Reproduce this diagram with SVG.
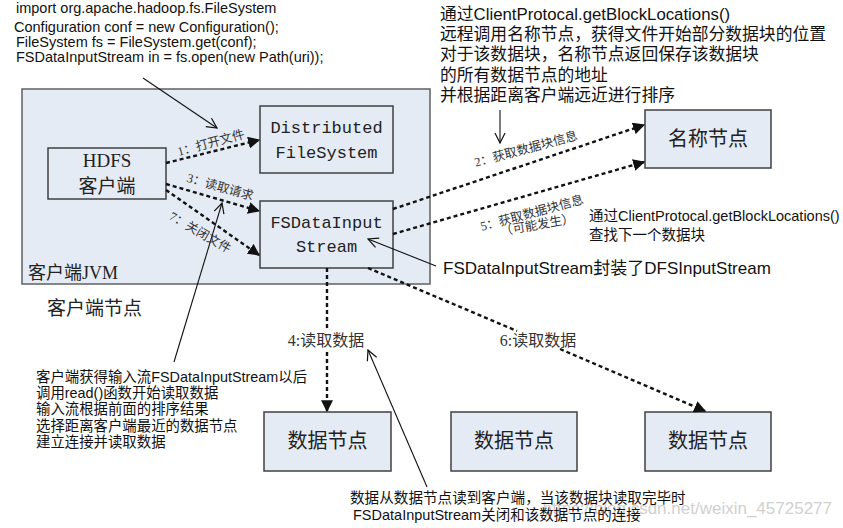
<svg xmlns="http://www.w3.org/2000/svg" width="843" height="528" viewBox="0 0 843 528">
<style>
.box{fill:#e5ebf5;stroke:#404040;stroke-width:1.5}
.outer{fill:#e5ebf5;stroke:#606060;stroke-width:1.5}
.nd{font-family:"Liberation Serif","Noto Sans CJK SC",serif;font-size:19px;fill:#222;text-anchor:middle}
.mono{font-family:"Liberation Mono","Noto Sans CJK SC",monospace;font-size:17px;fill:#222;text-anchor:middle}
.lbl{font-family:"Liberation Serif","Noto Sans CJK SC",serif;font-size:12.5px;fill:#333;text-anchor:middle}
.lbl2{font-family:"Liberation Serif","Noto Sans CJK SC",serif;font-size:16px;fill:#333;text-anchor:middle}
.ann{font-family:"Liberation Sans","Noto Sans CJK SC",sans-serif;fill:#111}
.dash{fill:none;stroke:#111;stroke-width:2.4;stroke-dasharray:4 3}
.sol{fill:none;stroke:#111;stroke-width:1.1}
</style>
<defs>
<marker id="tri" viewBox="0 0 10 10" refX="9" refY="5" markerWidth="5" markerHeight="5" orient="auto" markerUnits="strokeWidth"><path d="M0,0 L10,5 L0,10 Z" fill="#111"/></marker>
<marker id="open" viewBox="0 0 12 12" refX="11" refY="6" markerWidth="11" markerHeight="11" orient="auto" markerUnits="strokeWidth"><path d="M1,1 L11,6 L1,11" fill="none" stroke="#111" stroke-width="1.2"/></marker>
</defs>
<rect width="843" height="528" fill="#fff"/>

<g id="client-node">
<rect class="outer" x="22" y="89" width="408" height="195"/>
<text x="28" y="279" class="nd" style="text-anchor:start;font-size:18px">客户端JVM</text>
</g>
<text x="47" y="315" class="nd" style="text-anchor:start;font-size:19px">客户端节点</text>

<g id="hdfs-client">
<rect class="box" x="48" y="148" width="118" height="51"/>
<text x="107" y="167" class="nd">HDFS</text>
<text x="107" y="193" class="nd">客户端</text>
</g>
<g id="dfs">
<rect class="box" x="260" y="106" width="133" height="67"/>
<text x="326.5" y="133" class="mono">Distributed</text>
<text x="326.5" y="158" class="mono">FileSystem</text>
</g>
<g id="fsdis">
<rect class="box" x="260" y="201" width="133" height="67"/>
<text x="326.5" y="228" class="mono">FSDataInput</text>
<text x="326.5" y="252" class="mono">Stream</text>
</g>
<g id="namenode">
<rect class="box" x="645" y="110" width="126" height="58"/>
<text x="708" y="146" class="nd" style="font-size:20px">名称节点</text>
</g>
<g id="datanode1">
<rect class="box" x="264" y="412" width="127" height="59"/>
<text x="327.5" y="448" class="nd" style="font-size:20px">数据节点</text>
</g>
<g id="datanode2">
<rect class="box" x="451" y="412" width="126" height="59"/>
<text x="514" y="448" class="nd" style="font-size:20px">数据节点</text>
</g>
<g id="datanode3">
<rect class="box" x="645" y="412" width="126" height="59"/>
<text x="708" y="448" class="nd" style="font-size:20px">数据节点</text>
</g>

<g id="connectors">
<line class="dash" x1="166" y1="163" x2="259" y2="140" marker-end="url(#tri)"/>
<line class="dash" x1="166" y1="184" x2="259" y2="211" marker-end="url(#tri)"/>
<line class="dash" x1="166" y1="190" x2="259" y2="255" marker-end="url(#tri)"/>
<line class="dash" x1="393" y1="209" x2="644" y2="125" marker-end="url(#tri)"/>
<line class="dash" x1="393" y1="234" x2="644" y2="162" marker-end="url(#tri)"/>
<line class="dash" x1="327" y1="268" x2="327" y2="330"/>
<line class="dash" x1="327" y1="352" x2="327" y2="411" marker-end="url(#tri)"/>
<line class="dash" x1="368" y1="268" x2="517" y2="331"/>
<line class="dash" x1="560" y1="349" x2="705" y2="411" marker-end="url(#tri)"/>
<line class="sol" x1="143" y1="78" x2="217" y2="128" marker-end="url(#open)"/>
<line class="sol" x1="500" y1="110" x2="500" y2="143" marker-end="url(#open)"/>
<line class="sol" x1="436" y1="266" x2="368" y2="239" marker-end="url(#open)"/>
<line class="sol" x1="174" y1="362" x2="222" y2="203" marker-end="url(#open)"/>
<line class="sol" x1="427" y1="487" x2="368" y2="350" marker-end="url(#open)"/>

<text class="lbl" transform="translate(212,147) rotate(-15)">1：打开文件</text>
<text class="lbl" transform="translate(219,191) rotate(16)">3：读取请求</text>
<text class="lbl" transform="translate(198,236) rotate(30)">7：关闭文件</text>
<text class="lbl" transform="translate(527,153) rotate(-15)">2：获取数据块信息</text>
<text class="lbl" transform="translate(533,217) rotate(-15)">5：获取数据块信息</text>
<text class="lbl" transform="translate(538,229) rotate(-10)">（可能发生）</text>
<text class="lbl2" x="326" y="346">4:读取数据</text>
<text class="lbl2" x="538" y="346">6:读取数据</text>
</g>

<g id="notes" class="ann">
<text x="16" y="13" font-size="14.5">import org.apache.hadoop.fs.FileSystem</text>
<text x="14" y="32" font-size="14.5">Configuration conf = new Configuration();</text>
<text x="16" y="47" font-size="14.5">FileSystem fs = FileSystem.get(conf);</text>
<text x="16" y="62" font-size="14.5">FSDataInputStream in = fs.open(new Path(uri));</text>

<text x="440" y="20" font-size="16.8">通过ClientProtocal.getBlockLocations()</text>
<text x="440" y="40" font-size="16.8">远程调用名称节点，获得文件开始部分数据块的位置</text>
<text x="440" y="60" font-size="16.8">对于该数据块，名称节点返回保存该数据块</text>
<text x="440" y="81" font-size="16.8">的所有数据节点的地址</text>
<text x="440" y="101" font-size="16.8">并根据距离客户端远近进行排序</text>

<text x="589" y="221" font-size="14.5">通过ClientProtocal.getBlockLocations()</text>
<text x="589" y="240" font-size="14.5">查找下一个数据块</text>

<text x="443" y="274" font-size="17">FSDataInputStream封装了DFSInputStream</text>

<text x="36" y="382" font-size="14.4">客户端获得输入流FSDataInputStream以后</text>
<text x="36" y="398" font-size="14.4">调用read()函数开始读取数据</text>
<text x="36" y="414" font-size="14.4">输入流根据前面的排序结果</text>
<text x="36" y="431" font-size="14.4">选择距离客户端最近的数据节点</text>
<text x="36" y="447" font-size="14.4">建立连接并读取数据</text>

<text x="832" y="514" font-size="17" fill="#d0d0d0" text-anchor="end">https://blog.csdn.net/weixin_45725277</text>
<text x="350" y="503" font-size="14.6">数据从数据节点读到客户端，当该数据块读取完毕时</text>
<text x="353" y="520" font-size="14.5">FSDataInputStream关闭和该数据节点的连接</text>
</g>
</svg>
